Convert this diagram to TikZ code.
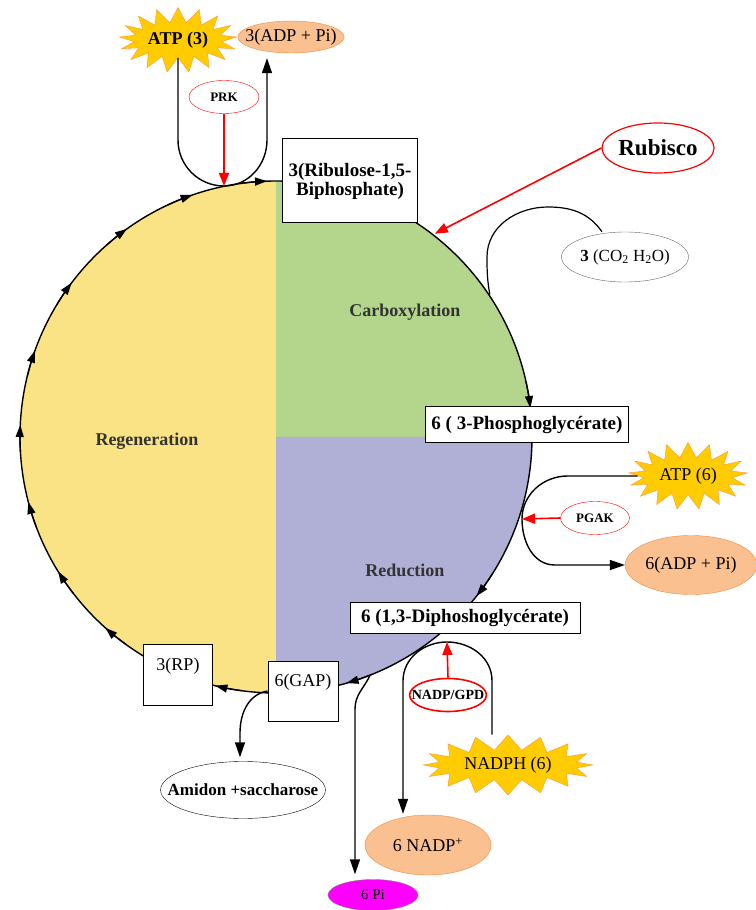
\documentclass[tikz,border=0pt]{standalone}
\usepackage{fontspec}
\setmainfont{Liberation Serif}
\usepackage{xcolor}
\usepackage{tikz}
\usetikzlibrary{shapes.geometric, shapes.symbols, arrows.meta, positioning, calc}
\definecolor{regencolor}{RGB}{250,227,132}
\definecolor{carbcolor}{RGB}{180,214,140}
\definecolor{reduccolor}{RGB}{176,176,214}
\definecolor{sungold}{RGB}{255,204,0}
\definecolor{sunedge}{RGB}{255,150,50}
\definecolor{adpfill}{RGB}{250,192,144}
\definecolor{adpedge}{RGB}{240,140,60}
\definecolor{pimagenta}{RGB}{255,0,255}
\newcommand{\fsz}[1]{\fontsize{#1}{#1}\selectfont}

\begin{document}
\begin{tikzpicture}[
    x=1pt, y=1pt,
    box/.style={draw, line width=1pt, fill=white, inner sep=2pt, font=\fsz{19}\bfseries},
    plainbox/.style={box, font=\fsz{18}, text depth=22pt},
    enzyme/.style={ellipse, draw=red, fill=white, inner sep=0pt, font=\fsz{13}\bfseries},
    pool/.style={ellipse, draw=adpedge, fill=adpfill, inner sep=1pt, font=\fsz{18}},
    sun/.style={starburst, starburst points=17, starburst point height=15pt, random starburst=0, draw=sunedge, fill=sungold, inner sep=1pt},
    phase/.style={font=\fsz{18}\bfseries, text=black!80},
    cyc/.style={line width=1.3pt, -{Triangle[length=12pt,width=8pt]}},
    flow/.style={line width=1.4pt, -{Triangle[length=15pt,width=10pt]}},
    cat/.style={red, line width=1.6pt, -{Triangle[length=13pt,width=10pt]}}
]
    \useasboundingbox (-276,-473) rectangle (479,437);

    % Phases of the cycle
    \fill[regencolor] (0,0) -- (90:256pt) arc[start angle=90, end angle=270, radius=256pt] -- cycle;
    \fill[carbcolor] (0,0) -- (0:256pt) arc[start angle=0, end angle=90, radius=256pt] -- cycle;
    \fill[reduccolor] (0,0) -- (270:256pt) arc[start angle=270, end angle=360, radius=256pt] -- cycle;
    \draw[line width=1.4pt] (0,0) circle[radius=256pt];
    \foreach \a in {228.2,211.7,194.7,177.3,160.3,143,125.6,109,92,256.3,286,321.6,6.5}
        \draw[cyc] (\a+6:256pt) arc[start angle=\a+6, end angle=\a, radius=256pt];

    \node[phase] (carb) at (129,125) {Carboxylation};
    \node[phase] (regen) at (-129,-4) {Regeneration};
    \node[phase] (reduc) at (129,-133) {Reduction};

    % Points on the cycle
    \coordinate (prkhit) at (-52,251);
    \coordinate (rubhit) at (52:258pt);
    \coordinate (co2hit) at (33.7:257pt);
    \coordinate (pgakhit) at (246,-82);
    \coordinate (gpdhit) at (171,-205);
    \coordinate (pihit) at (291.6:256pt);

    % Metabolites and enzymes
    \node[sun, minimum width=117pt, minimum height=65pt, font=\fsz{18}\bfseries] (atp3) at (-98,397) {ATP (3)};
    \node[pool, inner xsep=-8pt, inner ysep=0pt, minimum width=102pt, minimum height=32pt] (adp3) at (15,400) {3(ADP + Pi)};
    \node[enzyme, minimum width=70pt, minimum height=33pt] (prk) at (-52,340) {PRK};
    \node[box, minimum width=135pt, minimum height=84pt, align=center] (rubp) at (74,256) {3(Ribulose-1,5-\\Biphosphate)};
    \node[enzyme, line width=1.2pt, minimum width=110pt, minimum height=50pt, font=\fsz{23}\bfseries] (rubisco) at (382,289) {Rubisco};
    \node[ellipse, draw=black!60, fill=white, inner xsep=-3pt, inner ysep=0pt, minimum width=127pt, minimum height=50pt, font=\fsz{17}] (co2) at (349,180) {\textbf{3} (CO\textsubscript{2} H\textsubscript{2}O)};

    \node[box, minimum width=203pt, minimum height=36pt] (pga) at (251,12) {6 ( 3-Phosphoglycérate)};
    \node[sun, minimum width=119pt, minimum height=67pt, font=\fsz{18}] (atp6) at (412,-39) {ATP (6)};
    \node[enzyme, minimum width=69pt, minimum height=33pt] (pgak) at (319,-81) {PGAK};
    \node[pool, minimum width=126pt, minimum height=59pt] (adp6) at (415,-128) {6(ADP + Pi)};
    \node[box, minimum width=230pt, minimum height=31pt] (dpg) at (189,-181) {6 (1,3-Diphoshoglycérate)};

    \node[plainbox, minimum width=69pt, minimum height=61pt] (rp) at (-98,-238) {3(RP)};
    \node[plainbox, minimum width=70pt, minimum height=60pt] (gap) at (27,-254) {6(GAP)};
    \node[ellipse, draw, fill=white, inner xsep=-17pt, inner ysep=0pt, minimum width=161pt, minimum height=57pt, font=\fsz{17}\bfseries] (amidon) at (-33,-353) {Amidon +saccharose};
    \node[enzyme, line width=1.6pt, inner xsep=-9pt, minimum width=76pt, minimum height=33pt, font=\fsz{14}\bfseries] (gpd) at (172,-258) {NADP/GPD};
    \node[sun, starburst points=16, minimum width=170pt, minimum height=60pt, font=\fsz{18}] (nadph) at (232,-328) {NADPH (6)};
    \node[pool, minimum width=126pt, minimum height=60pt] (nadp) at (152,-408) {6 NADP\textsuperscript{+}};
    \node[ellipse, draw=black!50, fill=pimagenta, minimum width=90pt, minimum height=31pt, font=\fsz{15}] (pi) at (97,-458) {6 Pi};

    % Connectors
    \draw[flow] (atp3.south) -- (-98,297) to[out=-90,in=180] (prkhit) to[out=0,in=-90] (-9,297) -- ([xshift=-24pt,yshift=-5pt]adp3.south);
    \draw[cat] (prk.south) -- (prkhit);
    \draw[cat] (rubisco.west) -- (rubhit);
    \draw[line width=1.2pt] ([xshift=-23pt]co2.north) to[out=125,in=0] (272,230) to[out=180,in=90] (211,180) to[out=-90,in=100] (co2hit);

    \draw[flow] (atp6.west) -- ++(-70,0) to[out=180,in=90] (pgakhit) to[out=-90,in=180] ([xshift=-70pt]adp6.west) -- (adp6.west);
    \draw[cat] (pgak.west) -- (pgakhit);

    \draw[flow] ([xshift=-16pt]nadph.north) -- ++(0,54) to[out=90,in=0] (gpdhit) to[out=180,in=90] (127,-244) -- ([xshift=-25pt,yshift=1pt]nadp.north);
    \draw[cat] (gpd.north) -- (gpdhit);

    \draw[flow] (pihit) to[out=-115,in=90] (79,-272) -- ([xshift=-18pt,yshift=5pt]pi.north);
    \draw[flow] (gap.west) to[out=190,in=90] (-36,-296) -- ([xshift=-3pt,yshift=4pt]amidon.north);
\end{tikzpicture}
\end{document}
